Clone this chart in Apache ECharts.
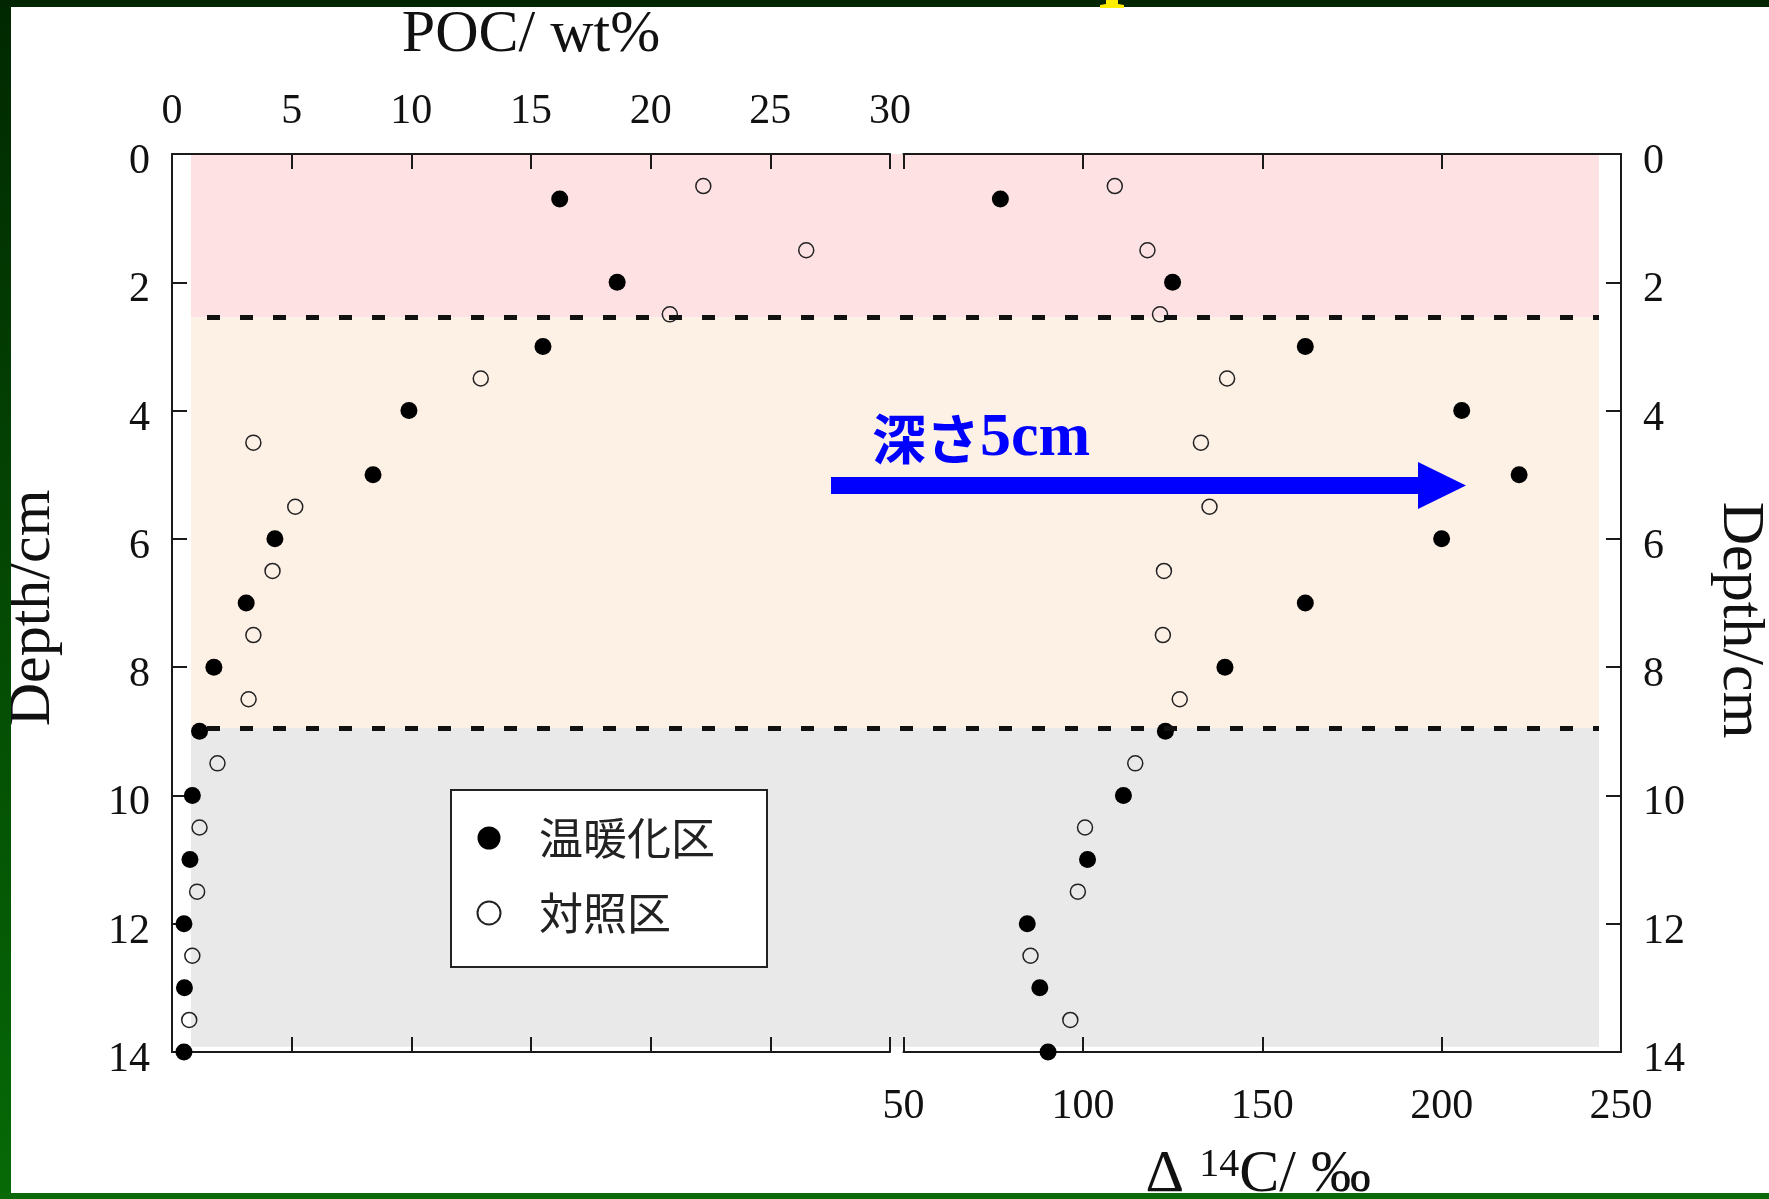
<!DOCTYPE html>
<html>
<head>
<meta charset="utf-8">
<script src="https://cdn.jsdelivr.net/npm/echarts@6/dist/echarts.min.js"></script>
<style>
  html, body { margin: 0; padding: 0; background: #fff; }
  #chart { width: 1769px; height: 1199px; }
</style>
</head>
<body>
<div id="chart"></div>
<script>
// Sampling depths (cm)
const depthWarm = [0.7, 2, 3, 4, 5, 6, 7, 8, 9, 10, 11, 12, 13, 14];
const depthCtrl = [0.5, 1.5, 2.5, 3.5, 4.5, 5.5, 6.5, 7.5, 8.5, 9.5, 10.5, 11.5, 12.5, 13.5];

// POC (wt%)
const pocWarm = [16.2, 18.6, 15.5, 9.9, 8.4, 4.3, 3.1, 1.75, 1.15, 0.85, 0.75, 0.5, 0.52, 0.5];
const pocCtrl = [22.2, 26.5, 20.8, 12.9, 3.4, 5.15, 4.2, 3.4, 3.2, 1.9, 1.15, 1.05, 0.85, 0.72];

// Δ14C (‰)
const d14cWarm = [77, 125, 162, 205.6, 221.6, 200, 162, 139.6, 123, 111.3, 101.3, 84.5, 88, 90.3];
const d14cCtrl = [108.9, 118, 121.5, 140.2, 132.9, 135.3, 122.6, 122.3, 127, 114.6, 100.6, 98.6, 85.4, 96.5];

// Layer boundaries (cm) and layer fills
const layerBounds = [0, 2.55, 8.95, 13.92];
const layerColors = ['#fde1e3', '#fdf0e5', '#e9e9e9'];
const layerDividers = [2.55, 8.95];

// Axis settings
const pocTicks = { min: 0, max: 30, interval: 5 };
const d14cTicks = { min: 50, max: 250, interval: 50 };
const depthTicks = { min: 0, max: 14, interval: 2 };

const seriesNames = ['温暖化区', '対照区'];

const SERIF = "'Liberation Serif', 'Times New Roman', serif";
const INK = '#1a1a1a';

function pairs(xs, ys) { return xs.map((x, i) => [x, ys[i]]); }

const lineCommon = { show: true, onZero: false, lineStyle: { color: INK, width: 2 } };
const tickCommon = { show: true, inside: true, length: 15, lineStyle: { color: INK, width: 2 } };

function xAx(gridIndex, position, ticks, showLabels, extra) {
  return Object.assign({
    type: 'value', gridIndex, position,
    min: ticks.min, max: ticks.max, interval: ticks.interval,
    axisLine: lineCommon, axisTick: tickCommon,
    splitLine: { show: false },
    axisLabel: {
      show: showLabels, fontFamily: SERIF, fontSize: 42, color: '#111',
      margin: position === 'top' ? 21 : 34, showMinLabel: true, showMaxLabel: true
    },
    z: 2
  }, extra || {});
}

function yAx(gridIndex, position, extra) {
  return Object.assign({
    type: 'value', gridIndex, position, inverse: true,
    min: depthTicks.min, max: depthTicks.max, interval: depthTicks.interval,
    axisLine: lineCommon, axisTick: tickCommon,
    splitLine: { show: false },
    axisLabel: {
      fontFamily: SERIF, fontSize: 42, color: '#111', margin: 22,
      verticalAlign: 'top', lineHeight: 16, showMinLabel: true, showMaxLabel: true
    },
    name: 'Depth/cm', nameLocation: 'middle',
    z: 2
  }, extra || {});
}

const chart = echarts.init(document.getElementById('chart'), null, { renderer: 'canvas' });

const markerWarm = { symbol: 'circle', symbolSize: 17, itemStyle: { color: '#000', opacity: 1 } };
const markerCtrl = { symbol: 'circle', symbolSize: 15, itemStyle: { color: 'transparent', borderColor: '#222', borderWidth: 1.5, opacity: 1 } };

chart.setOption({
  backgroundColor: '#ffffff',
  animation: false,
  grid: [
    { left: 172, top: 154, width: 718, height: 898, outerBoundsMode: 'none', containLabel: false },     // POC panel
    { left: 903.5, top: 154, width: 717.5, height: 898, outerBoundsMode: 'none', containLabel: false },  // Δ14C panel
    { left: 191, top: 154, width: 1408, height: 898, outerBoundsMode: 'none', containLabel: false }      // layer shading
  ],
  xAxis: [
    xAx(0, 'top', pocTicks, true, {
      name: 'POC/ wt%', nameLocation: 'middle', nameGap: 89,
      nameTextStyle: { fontFamily: SERIF, fontSize: 60, color: '#111' }
    }),
    xAx(0, 'bottom', pocTicks, false),
    xAx(1, 'bottom', d14cTicks, true, {
      name: '{d|Δ }{s|14}{d|C/ ‰}', nameLocation: 'middle', nameGap: 93,
      nameTextStyle: {
        fontFamily: SERIF, fontSize: 60, color: '#111', padding: [0, 8, 0, 0],
        rich: {
          d: { fontFamily: SERIF, fontSize: 60, lineHeight: 60, color: '#111', verticalAlign: 'bottom' },
          s: { fontFamily: SERIF, fontSize: 40, lineHeight: 50, color: '#111', verticalAlign: 'top' }
        }
      }
    }),
    xAx(1, 'top', d14cTicks, false),
    { type: 'value', gridIndex: 2, min: 0, max: 1, show: false }
  ],
  yAxis: [
    yAx(0, 'left', {
      nameGap: 109, nameRotate: 90,
      nameTextStyle: { fontFamily: SERIF, fontSize: 60, color: '#111', padding: [0, 10, 0, 0] }
    }),
    yAx(1, 'right', {
      nameGap: 89, nameRotate: -90,
      nameTextStyle: { fontFamily: SERIF, fontSize: 60, color: '#111', padding: [0, 0, 0, 34] }
    }),
    { type: 'value', gridIndex: 2, inverse: true, min: 0, max: 14, show: false }
  ],
  legend: {
    data: seriesNames,
    orient: 'vertical',
    left: 451, top: 790,
    padding: [26, 52, 32, 25.5],
    itemWidth: 23, itemHeight: 23, itemGap: 31,
    icon: 'circle',
    selectedMode: false,
    backgroundColor: '#ffffff',
    borderColor: '#222', borderWidth: 2, borderRadius: 0,
    textStyle: {
      fontFamily: "'Noto Sans CJK JP', sans-serif", fontSize: 44, lineHeight: 44,
      color: '#222', padding: [0, 0, 0, 33.5]
    }
  },
  series: [
    {
      type: 'scatter', xAxisIndex: 4, yAxisIndex: 2, data: [], silent: true, z: 0,
      markArea: {
        silent: true,
        data: layerColors.map((c, i) => [
          { yAxis: layerBounds[i], itemStyle: { color: c, opacity: 1 } },
          { yAxis: layerBounds[i + 1] }
        ])
      },
      markLine: {
        silent: true, symbol: ['none', 'none'],
        label: { show: false },
        lineStyle: { color: '#111', width: 5, type: [13, 20], dashOffset: 17, opacity: 1 },
        data: layerDividers.map(v => ({ yAxis: v }))
      }
    },
    Object.assign({ name: seriesNames[0], type: 'scatter', xAxisIndex: 0, yAxisIndex: 0, z: 4,
      data: pairs(pocWarm, depthWarm) }, markerWarm),
    Object.assign({ name: seriesNames[1], type: 'scatter', xAxisIndex: 0, yAxisIndex: 0, z: 4,
      data: pairs(pocCtrl, depthCtrl) }, markerCtrl),
    Object.assign({ name: seriesNames[0], type: 'scatter', xAxisIndex: 2, yAxisIndex: 1, z: 4,
      data: pairs(d14cWarm, depthWarm) }, markerWarm),
    Object.assign({ name: seriesNames[1], type: 'scatter', xAxisIndex: 2, yAxisIndex: 1, z: 4,
      data: pairs(d14cCtrl, depthCtrl) }, markerCtrl)
  ],
  graphic: [
    // blue annotation
    {
      type: 'text', left: 872, top: 408, z: 50,
      style: {
        text: '{a|深さ}{b|5cm}',
        rich: {
          a: { fontFamily: "'Noto Sans CJK JP', sans-serif", fontWeight: 'bold', fontSize: 54, fill: '#0000ff' },
          b: { fontFamily: SERIF, fontWeight: 'bold', fontSize: 62, fill: '#0000ff' }
        }
      }
    },
    {
      type: 'polygon', z: 50,
      shape: { points: [[831, 477], [1418, 477], [1418, 462], [1466, 485.5], [1418, 509], [1418, 494], [831, 494]] },
      style: { fill: '#0000ff' }
    },
    // slide frame
    {
      type: 'rect', z: 100, shape: { x: 0, y: 0, width: 11, height: 1199 },
      style: { fill: new echarts.graphic.LinearGradient(0, 0, 0, 1, [
        { offset: 0, color: '#012801' }, { offset: 1, color: '#066a06' }]) }
    },
    { type: 'rect', z: 100, shape: { x: 0, y: 0, width: 1769, height: 7 }, style: { fill: '#022602' } },
    { type: 'rect', z: 100, shape: { x: 0, y: 1193, width: 1769, height: 6 }, style: { fill: '#0a6a0a' } },
    {
      type: 'polygon', z: 101,
      shape: { points: [[1106, 0], [1118, 0], [1118, 4], [1124, 5], [1124, 8], [1100, 8], [1100, 5], [1106, 4]] },
      style: { fill: '#ffee00' }
    }
  ]
});
</script>
</body>
</html>
